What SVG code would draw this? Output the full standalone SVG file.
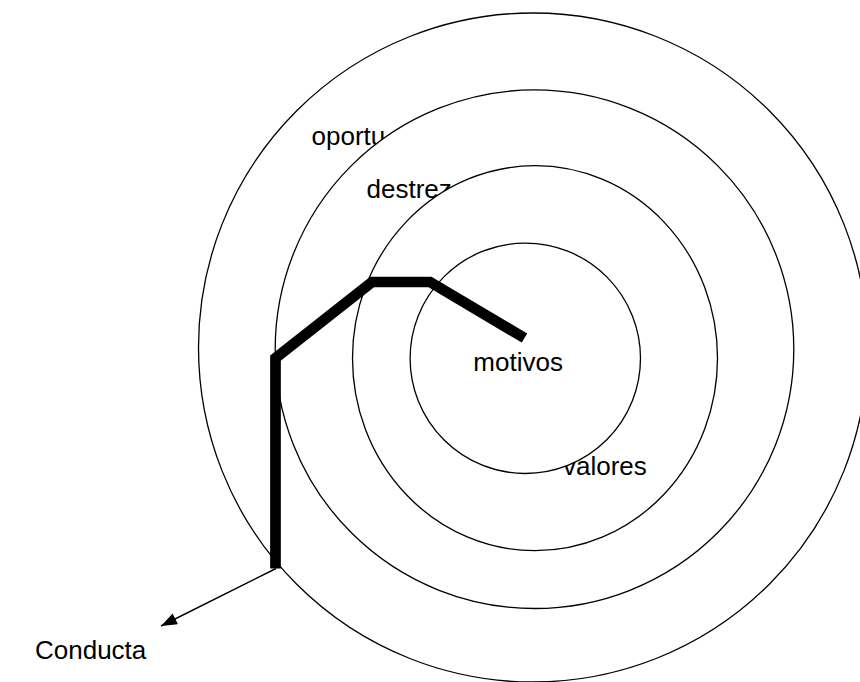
<svg xmlns="http://www.w3.org/2000/svg" width="860" height="682" viewBox="0 0 860 682">
  <style>
    .ring { fill: #ffffff; stroke: #000000; stroke-width: 1.3; }
    .lbl { font-family: "Liberation Sans", Arial, sans-serif; font-size: 26px; fill: #000000; }
    .path { fill: none; stroke: #000000; stroke-width: 10.7; stroke-linejoin: miter; stroke-linecap: butt; }
    .arrow { fill: none; stroke: #000000; stroke-width: 1.5; }
  </style>
  <defs>
    <marker id="head" markerUnits="userSpaceOnUse" markerWidth="18" markerHeight="14" refX="16" refY="6" orient="auto">
      <path d="M0,0 L16,6 L0,12 z" fill="#000000"/>
    </marker>
  </defs>
  <rect width="860" height="682" fill="#ffffff"/>
  <g id="oportunidades">
    <circle class="ring" cx="533" cy="347.5" r="334.5"/>
    <text class="lbl" x="311.5" y="144.5">oportu</text>
  </g>
  <g id="destrezas">
    <circle class="ring" cx="534.5" cy="349.2" r="259.3"/>
    <text class="lbl" x="366.5" y="197.5">destrez</text>
  </g>
  <g id="valores">
    <ellipse class="ring" cx="535" cy="358.2" rx="182.5" ry="192.5"/>
    <text class="lbl" x="563" y="475">valores</text>
  </g>
  <g id="motivos">
    <circle class="ring" cx="525.3" cy="358.3" r="115.2"/>
    <text class="lbl" x="473.3" y="371">motivos</text>
  </g>
  <g id="connectors">
    <polyline class="path" points="275.5,568.5 275.5,358 372,282 430,282 524.5,338"/>
    <line class="arrow" x1="276" y1="568.5" x2="161" y2="626" marker-end="url(#head)"/>
  </g>
  <g id="conducta">
    <text class="lbl" x="35" y="659">Conducta</text>
  </g>
</svg>
